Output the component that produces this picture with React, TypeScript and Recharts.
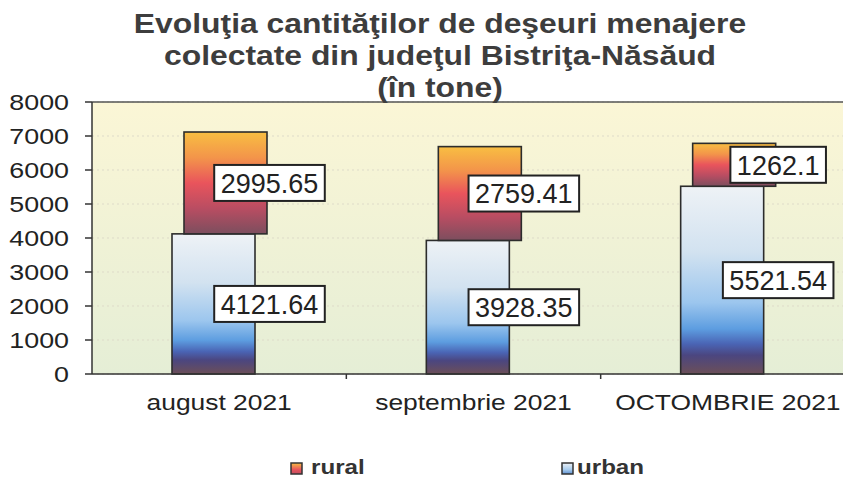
import React from 'react';
import { BarChart, Bar, XAxis, YAxis, CartesianGrid, ReferenceLine, LabelList } from 'recharts';

const categories = ['august 2021', 'septembrie 2021', 'OCTOMBRIE 2021'];
const urbanValues = [4121.64, 3928.35, 5521.54];
const ruralValues = [2995.65, 2759.41, 1262.1];
const yTicks = [0, 1000, 2000, 3000, 4000, 5000, 6000, 7000, 8000];
const titleLines = [
  'Evoluţia cantităţilor de deşeuri menajere',
  'colectate din judeţul Bistriţa-Năsăud',
  '(în tone)',
];
const legendLabels = ['rural', 'urban'];

const data = categories.map((c, i) => ({ category: c, urban: urbanValues[i], rural: ruralValues[i] }));

const FONT = '"Liberation Sans", Arial, Helvetica, sans-serif';

const textWidth = (s: string, size: number) => {
  let w = 0;
  for (const ch of s) w += ch === '.' ? 0.278 : 0.556;
  return w * size;
};

const makeBar = (shift: number, grad: string) => (props: any) => {
  const { x, y, width, height } = props;
  if (height == null || width == null) return null;
  return (
    <rect
      x={Number(x) + shift}
      y={Number(y)}
      width={Number(width)}
      height={Number(height)}
      fill={`url(#${grad})`}
      stroke="#2c2c2c"
      strokeWidth={1.6}
    />
  );
};

const BoxLabel = (props: any) => {
  const { x, y, width, height, value } = props;
  const text = String(value);
  const cx = Number(x) + Number(width) / 2 + 50;
  const cy = Number(y) + Number(height) / 2;
  const fs = 27;
  const bw = textWidth(text, fs) + 13;
  const bh = 36;
  return (
    <g>
      <rect x={cx - bw / 2} y={cy - bh / 2} width={bw} height={bh} fill="#ffffff" stroke="#222" strokeWidth={2} />
      <text x={cx} y={cy} dy="0.36em" textAnchor="middle" fontSize={fs} fontFamily={FONT} fill="#222">
        {text}
      </text>
    </g>
  );
};

const YTick = (props: any) => {
  const { x, y, payload } = props;
  return (
    <g transform={`translate(${x},${y})`}>
      <text transform="scale(1.22,1)" textAnchor="end" dy="0.36em" fontSize={22} fontFamily={FONT} fill="#222">
        {payload.value}
      </text>
    </g>
  );
};

const XTick = (props: any) => {
  const { x, y, payload, index } = props;
  const off = payload && payload.offset ? payload.offset : 127;
  return (
    <g>
      {index < categories.length - 1 && (
        <line x1={x + off} x2={x + off} y1={y} y2={y + 5} stroke="#333" strokeWidth={1.5} />
      )}
      <g transform={`translate(${x},${y + 36})`}>
        <text transform="scale(1.2,1)" textAnchor="middle" fontSize={22} fontFamily={FONT} fill="#222">
          {payload.value}
        </text>
      </g>
    </g>
  );
};

export default function App() {
  return (
    <div style={{ position: 'absolute', left: 0, top: 0, width: 843, height: 480, overflow: 'hidden', background: '#fff' }}>
      <BarChart
        width={870}
        height={480}
        data={data}
        margin={{ top: 102, right: 15, bottom: 46, left: 0 }}
        barSize={83}
      >
        <defs>
          <linearGradient id="plotBg" x1="0" y1="0" x2="0" y2="1">
            <stop offset="0%" stopColor="#fbf6d6" />
            <stop offset="100%" stopColor="#e5eed6" />
          </linearGradient>
          <linearGradient id="gradUrban" x1="0" y1="0" x2="0" y2="1">
            <stop offset="0%" stopColor="#eef2f6" />
            <stop offset="35%" stopColor="#d2e2f0" />
            <stop offset="62%" stopColor="#9cc6ee" />
            <stop offset="76%" stopColor="#5d9de0" />
            <stop offset="84%" stopColor="#4a64b4" />
            <stop offset="90%" stopColor="#4b4680" />
            <stop offset="100%" stopColor="#6c4f58" />
          </linearGradient>
          <linearGradient id="gradRural" x1="0" y1="0" x2="0" y2="1">
            <stop offset="0%" stopColor="#f8be42" />
            <stop offset="25%" stopColor="#f3954a" />
            <stop offset="50%" stopColor="#e9545c" />
            <stop offset="75%" stopColor="#b94d62" />
            <stop offset="100%" stopColor="#7c4e5e" />
          </linearGradient>
        </defs>
        <CartesianGrid
          vertical={false}
          stroke="#dedbc9"
          strokeDasharray="2 3"
          fill="url(#plotBg)"
          fillOpacity={1}
        />
        <XAxis
          dataKey="category"
          height={60}
          axisLine={{ stroke: '#333', strokeWidth: 1.5 }}
          tickLine={false}
          tickSize={0}
          tickMargin={0}
          interval={0}
          tick={<XTick />}
        />
        <YAxis
          width={92}
          domain={[0, 8000]}
          ticks={yTicks}
          interval={0}
          axisLine={{ stroke: '#333', strokeWidth: 1.5 }}
          tickLine={{ stroke: '#333', strokeWidth: 1.5 }}
          tickSize={7}
          tickMargin={16}
          tick={<YTick />}
        />
        <ReferenceLine y={8000} stroke="#555" strokeWidth={1.5} />
        <Bar dataKey="urban" stackId="a" isAnimationActive={false} shape={makeBar(-6, 'gradUrban')}>
          <LabelList dataKey="urban" content={<BoxLabel />} />
        </Bar>
        <Bar dataKey="rural" stackId="a" isAnimationActive={false} shape={makeBar(6, 'gradRural')}>
          <LabelList dataKey="rural" content={<BoxLabel />} />
        </Bar>
      </BarChart>
      <svg
        width={843}
        height={480}
        style={{ position: 'absolute', left: 0, top: 0, pointerEvents: 'none' }}
      >
        <defs>
          <linearGradient id="legUrban" x1="0" y1="0" x2="0" y2="1">
            <stop offset="0%" stopColor="#eef2f6" />
            <stop offset="60%" stopColor="#a8ccee" />
            <stop offset="100%" stopColor="#5d8fd0" />
          </linearGradient>
          <linearGradient id="legRural" x1="0" y1="0" x2="0" y2="1">
            <stop offset="0%" stopColor="#f8be42" />
            <stop offset="60%" stopColor="#e9545c" />
            <stop offset="100%" stopColor="#c04e60" />
          </linearGradient>
        </defs>
        {titleLines.map((t, i) => (
          <g key={i} transform={`translate(440,${33 + i * 32})`}>
            <text
              transform="scale(1.18,1)"
              textAnchor="middle"
              fontSize={27}
              fontWeight="bold"
              fontFamily={FONT}
              fill="#3d3d3d"
            >
              {t}
            </text>
          </g>
        ))}
        <rect x={291} y={463} width={11} height={11} fill="url(#legRural)" stroke="#333" strokeWidth={1.5} />
        <g transform="translate(311,474)">
          <text transform="scale(1.15,1)" fontSize={21} fontWeight="bold" fontFamily={FONT} fill="#333">
            {legendLabels[0]}
          </text>
        </g>
        <rect x={562} y={463} width={11} height={11} fill="url(#legUrban)" stroke="#333" strokeWidth={1.5} />
        <g transform="translate(577,474)">
          <text transform="scale(1.15,1)" fontSize={21} fontWeight="bold" fontFamily={FONT} fill="#333">
            {legendLabels[1]}
          </text>
        </g>
      </svg>
    </div>
  );
}
